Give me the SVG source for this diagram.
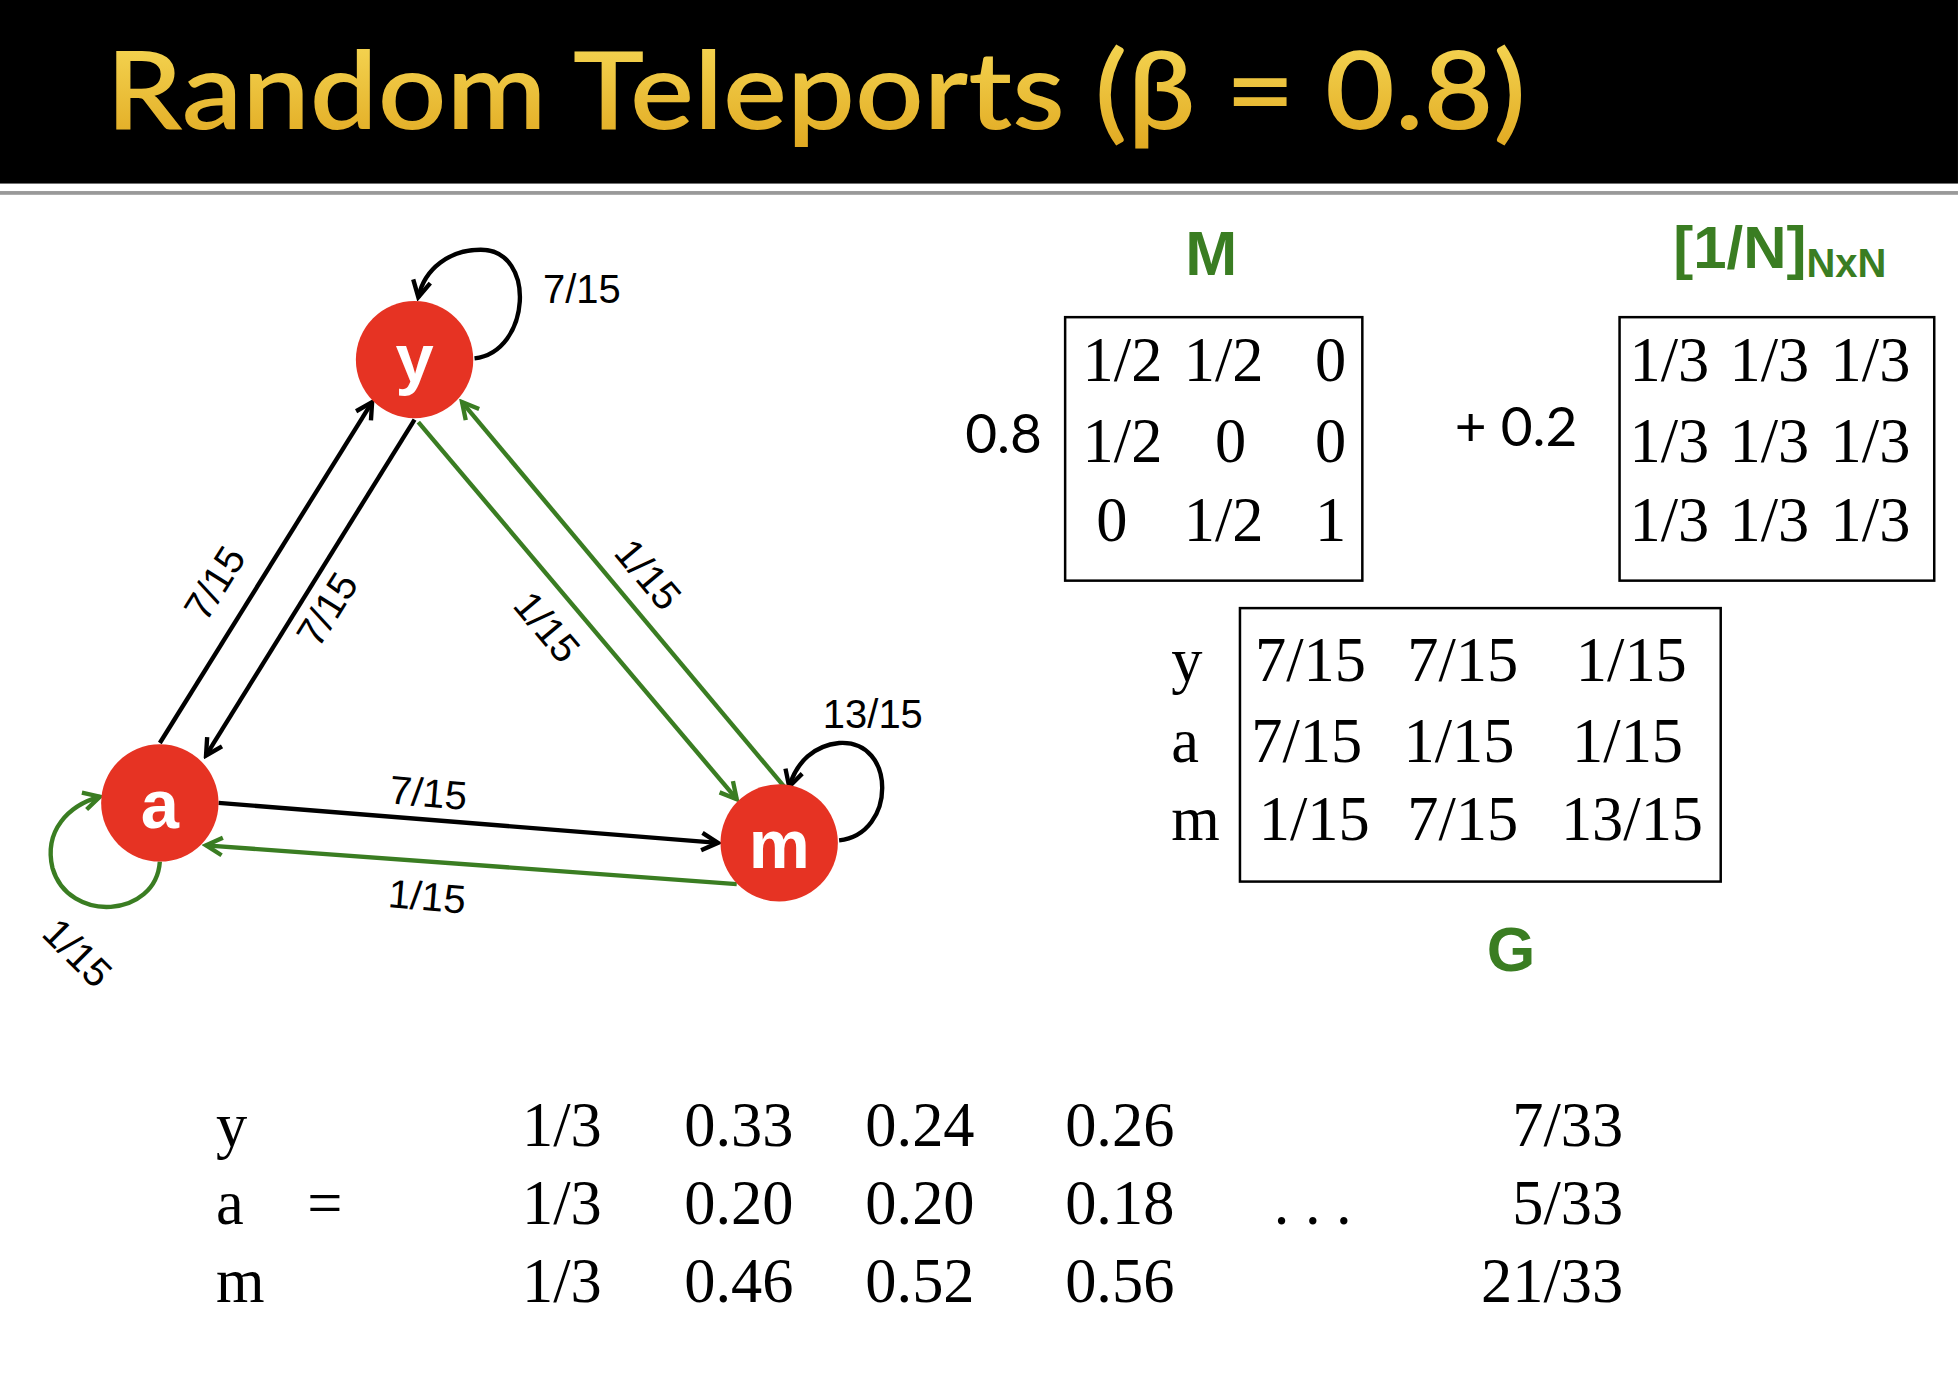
<svg xmlns="http://www.w3.org/2000/svg" width="1958" height="1382" viewBox="0 0 1958 1382">
<style>
.node{fill:#e63323}
.nl{font-family:"Liberation Sans",Arial,sans-serif;font-weight:bold;fill:#fff;font-size:55px;text-anchor:middle}
.e{fill:none;stroke-width:3.5}
.k{stroke:#000}
.g{stroke:#3a7d22}
.lb{font-family:"Liberation Sans",Arial,sans-serif;font-size:32px;fill:#000;text-anchor:middle}
.tm{font-family:"Liberation Serif","Times New Roman",serif;font-size:50px;fill:#000}
.gs{font-family:"Lato","Open Sans",sans-serif;font-size:44px;fill:#000}
.gh{font-family:"Liberation Sans",Arial,sans-serif;font-weight:bold;fill:#3a7d22}
.box{fill:none;stroke:#000;stroke-width:2}
</style>
<defs>
<linearGradient id="gold" x1="0" y1="0" x2="0" y2="1">
<stop offset="0" stop-color="#f8dc5a"/><stop offset="1" stop-color="#e0a820"/>
</linearGradient>
<marker id="ak" viewBox="0 0 20 20" refX="17" refY="10" markerWidth="20" markerHeight="20" markerUnits="userSpaceOnUse" orient="auto"><path d="M4,3 L17,10 L4,17" fill="none" stroke="#000" stroke-width="3.5"/></marker>
<marker id="ag" viewBox="0 0 20 20" refX="17" refY="10" markerWidth="20" markerHeight="20" markerUnits="userSpaceOnUse" orient="auto"><path d="M4,3 L17,10 L4,17" fill="none" stroke="#3a7d22" stroke-width="3.5"/></marker>
</defs>
<rect width="1958" height="1382" fill="#fff"/>
<g transform="scale(1.2487)">
<g id="title">
<rect x="0" y="0" width="1568" height="147" fill="#000"/>
<rect x="0" y="153" width="1568" height="3" fill="#999"/>
<text x="85" y="103" font-family="Lato,'Open Sans',sans-serif" font-weight="600" font-size="86" fill="url(#gold)" textLength="1137" lengthAdjust="spacingAndGlyphs">Random Teleports (β = 0.8)</text>
</g>
<g id="connectors">
<path class="e k" d="M128,595 L298,322" marker-end="url(#ak)"/>
<path class="e k" d="M332,336 L165,605" marker-end="url(#ak)"/>
<path class="e g" d="M335,338 L590,640" marker-end="url(#ag)"/>
<path class="e g" d="M628,630 L370,322" marker-end="url(#ag)"/>
<path class="e k" d="M175,643 L575,675" marker-end="url(#ak)"/>
<path class="e g" d="M590,708 L165,677" marker-end="url(#ag)"/>
<path class="e k" d="M380,287 C425,282 430,200 385,200 C360,200 340,215 335,238" marker-end="url(#ak)"/>
<path class="e k" d="M672,673 C718,668 718,592 672,595 C652,597 638,610 632,630" marker-end="url(#ak)"/>
<path class="e g" d="M128,690 C125,735 55,740 42,695 C35,665 55,645 80,638" marker-end="url(#ag)"/>
<text class="lb" x="466" y="243">7/15</text>
<text class="lb" transform="translate(172,467) rotate(-58)" y="11">7/15</text>
<text class="lb" transform="translate(262,488) rotate(-58)" y="11">7/15</text>
<text class="lb" transform="translate(438,502) rotate(50)" y="11">1/15</text>
<text class="lb" transform="translate(519,460) rotate(50)" y="11">1/15</text>
<text class="lb" x="699" y="583">13/15</text>
<text class="lb" transform="translate(343,635) rotate(5)" y="11">7/15</text>
<text class="lb" transform="translate(342,718) rotate(5)" y="11">1/15</text>
<text class="lb" transform="translate(62,763) rotate(45)" y="11">1/15</text>
</g>
<g id="node-y"><circle class="node" cx="332" cy="288" r="47"/><text class="nl" x="332" y="306">y</text></g>
<g id="node-a"><circle class="node" cx="128" cy="643" r="47"/><text class="nl" x="128" y="663">a</text></g>
<g id="node-m"><circle class="node" cx="624" cy="675" r="47"/><text class="nl" x="624" y="695">m</text></g>
<g id="matrix-M">
<text class="gh" x="970" y="220" font-size="50" text-anchor="middle">M</text>
<rect class="box" x="853" y="254" width="238" height="211"/>
<text class="gs" x="773" y="363">0.8</text>
<text class="tm" y="305"><tspan x="867">1/2</tspan><tspan x="948">1/2</tspan><tspan x="1053">0</tspan></text>
<text class="tm" y="370"><tspan x="867">1/2</tspan><tspan x="973">0</tspan><tspan x="1053">0</tspan></text>
<text class="tm" y="433"><tspan x="878">0</tspan><tspan x="948">1/2</tspan><tspan x="1053">1</tspan></text>
</g>
<g id="plus"><text class="gs" x="1165" y="357">+ 0.2</text></g>
<g id="matrix-N">
<text class="gh" x="1340" y="215" font-size="48">[1/N]<tspan font-size="32" dy="7">NxN</tspan></text>
<rect class="box" x="1297" y="254" width="252" height="211"/>
<text class="tm" y="305"><tspan x="1305">1/3</tspan><tspan x="1385">1/3</tspan><tspan x="1466">1/3</tspan></text>
<text class="tm" y="370"><tspan x="1305">1/3</tspan><tspan x="1385">1/3</tspan><tspan x="1466">1/3</tspan></text>
<text class="tm" y="433"><tspan x="1305">1/3</tspan><tspan x="1385">1/3</tspan><tspan x="1466">1/3</tspan></text>
</g>
<g id="matrix-G">
<rect class="box" x="993" y="487" width="385" height="219"/>
<text class="tm" y="545"><tspan x="938">y</tspan><tspan x="1005">7/15</tspan><tspan x="1127">7/15</tspan><tspan x="1262">1/15</tspan></text>
<text class="tm" y="610"><tspan x="938">a</tspan><tspan x="1002">7/15</tspan><tspan x="1124">1/15</tspan><tspan x="1259">1/15</tspan></text>
<text class="tm" y="673"><tspan x="938">m</tspan><tspan x="1008">1/15</tspan><tspan x="1127">7/15</tspan><tspan x="1250">13/15</tspan></text>
<text class="gh" x="1210" y="778" font-size="50" text-anchor="middle">G</text>
</g>
<g id="iteration">
<text class="tm" y="918"><tspan x="173">y</tspan><tspan x="418">1/3</tspan><tspan x="548">0.33</tspan><tspan x="693">0.24</tspan><tspan x="853">0.26</tspan></text>
<text class="tm" y="980"><tspan x="173">a</tspan><tspan x="246">=</tspan><tspan x="418">1/3</tspan><tspan x="548">0.20</tspan><tspan x="693">0.20</tspan><tspan x="853">0.18</tspan><tspan x="1020">. . .</tspan></text>
<text class="tm" y="1043"><tspan x="173">m</tspan><tspan x="418">1/3</tspan><tspan x="548">0.46</tspan><tspan x="693">0.52</tspan><tspan x="853">0.56</tspan></text>
<text class="tm" text-anchor="end" x="1300" y="918">7/33</text>
<text class="tm" text-anchor="end" x="1300" y="980">5/33</text>
<text class="tm" text-anchor="end" x="1300" y="1043">21/33</text>
</g>
</g>
</svg>
